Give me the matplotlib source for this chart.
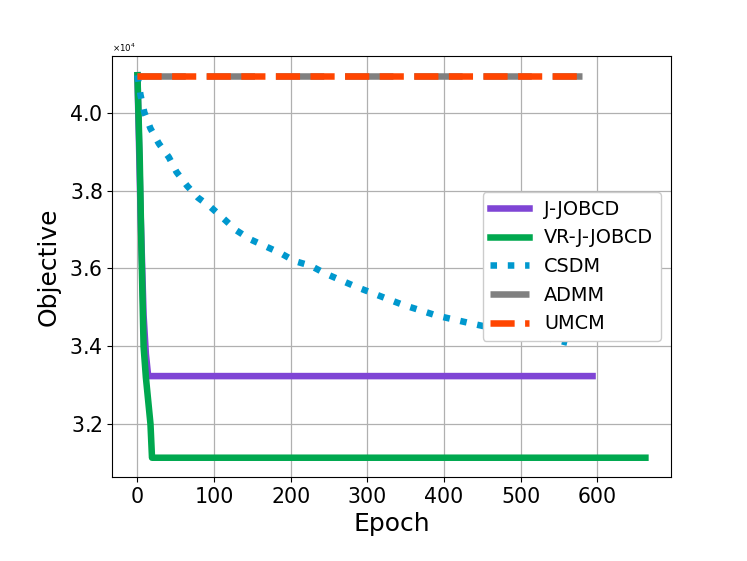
import matplotlib
matplotlib.use("Agg")
import matplotlib.pyplot as plt
from matplotlib.ticker import ScalarFormatter

# ---- data (objective values, raw units) ----
jj_x = [0, 4, 8, 11, 14, 594]
jj_y = [40970, 37500, 34800, 33800, 33230, 33230]

vr_x = [0, 3, 5, 8, 11, 17, 19, 663]
vr_y = [40970, 38800, 36700, 34000, 33200, 32000, 31130, 31130]

csdm_x = [0, 4, 9, 17, 28, 41, 51, 65, 79, 96, 113, 129, 147, 167, 187, 205,
          226, 245, 265, 285, 306, 327, 347, 368, 390, 412, 432, 460, 490,
          520, 545, 561]
csdm_y = [40970, 40460, 40010, 39600, 39210, 38860, 38480, 38120, 37820,
          37570, 37270, 36980, 36750, 36570, 36390, 36190, 36070, 35870,
          35700, 35530, 35370, 35210, 35060, 34930, 34790, 34690, 34600,
          34480, 34370, 34260, 34170, 34090]

admm_x = [0, 580]
admm_y = [40960, 40960]

umcm_x = [0, 580]
umcm_y = [40960, 40960]

labels = ["J-JOBCD", "VR-J-JOBCD", "CSDM", "ADMM", "UMCM"]
colors = ["#7F45D5", "#00A84F", "#0098CE", "#808080", "#FF4500"]

LW = 4.7

fig = plt.figure(figsize=(7.47, 5.61), dpi=100)
ax = fig.add_subplot(111)
fig.subplots_adjust(left=0.15, right=0.898, bottom=0.15, top=0.9)

ax.plot(jj_x, jj_y, color=colors[0], lw=LW, label=labels[0])
ax.plot(vr_x, vr_y, color=colors[1], lw=LW, label=labels[1])
ax.plot(csdm_x, csdm_y, color=colors[2], lw=LW, ls=":", label=labels[2])
ax.plot(admm_x, admm_y, color=colors[3], lw=LW, ls=(0, (7.4, 3.2)), label=labels[3])
ax.plot(umcm_x, umcm_y, color=colors[4], lw=LW, ls="--", label=labels[4])

ax.grid(True, color="#b0b0b0", lw=0.9)
ax.set_axisbelow(True)

fmt = ScalarFormatter(useMathText=True)
fmt.set_powerlimits((0, 0))
ax.yaxis.set_major_formatter(fmt)
ax.yaxis.get_offset_text().set_fontsize(6.2)

ax.tick_params(axis="both", labelsize=14.8)
ax.set_xlabel("Epoch", fontsize=18)
ax.set_ylabel("Objective", fontsize=18, labelpad=6)

ax.legend(loc="center right", fontsize=13.9, framealpha=1.0)

fig.savefig("out.png", dpi=100)
